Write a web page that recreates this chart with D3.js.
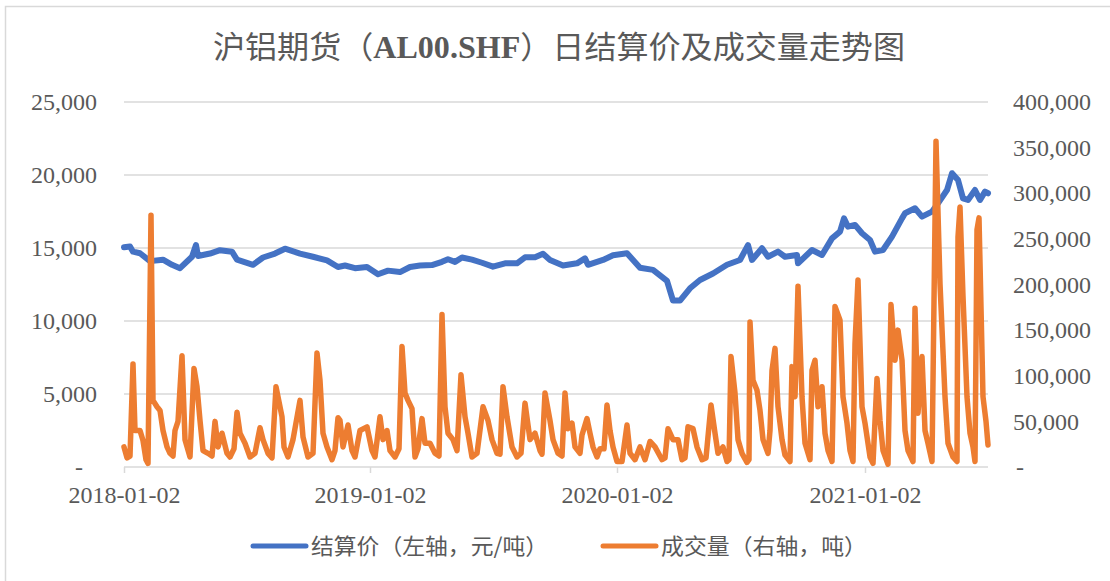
<!DOCTYPE html>
<html>
<head>
<meta charset="utf-8">
<script src="https://cdn.jsdelivr.net/npm/d3@7"></script>
<style>
  body { margin: 0; background: #fff; }
  svg { display: block; }
</style>
</head>
<body>
<svg id="chart"></svg>
<script>
// x axis is trading-day sequence from 2018-01-02
const tickDays = [0, 246, 493, 741];
const tickLabels = ["2018-01-02", "2019-01-02", "2020-01-02", "2021-01-02"];
const lastDay = 864;

const leftTicks = [0, 5000, 10000, 15000, 20000, 25000];
const rightTicks = [0, 50000, 100000, 150000, 200000, 250000, 300000, 350000, 400000];

// 结算价 (元/吨)
const priceDays = [0, 6, 9, 16, 26, 39, 48, 56, 68, 72, 74, 86, 96, 108, 113, 129, 139, 151, 161, 176,
  189, 203, 214, 221, 231, 243, 254, 264, 276, 286, 296, 308, 318, 324, 331, 338, 348, 358, 369, 381,
  393, 401, 411, 419, 426, 439, 453, 461, 464, 479, 489, 503, 516, 529, 543, 549, 556, 566, 576, 589,
  603, 616, 624, 628, 638, 644, 654, 661, 673, 674, 688, 698, 708, 716, 720, 724, 731, 738, 746, 751,
  759, 768, 778, 781, 791, 798, 808, 814, 823, 828, 834, 839, 844, 851, 856, 861, 864];
const priceValues = [15050, 15100, 14750, 14640, 14100, 14200, 13850, 13620, 14400, 15200, 14450, 14620, 14850, 14750, 14200, 13850, 14350, 14620, 14950, 14620,
  14400, 14150, 13700, 13800, 13620, 13700, 13200, 13450, 13350, 13700, 13800, 13830, 14050, 14230, 14050, 14350, 14200, 13990, 13720, 13950,
  13950, 14360, 14360, 14600, 14180, 13800, 13950, 14290, 13850, 14180, 14500, 14640, 13650, 13500, 12750, 11400, 11400, 12240, 12810, 13250,
  13850, 14180, 15200, 14180, 14980, 14400, 14750, 14400, 14520, 13950, 14860, 14520, 15660, 16120, 17030, 16460, 16580, 16010, 15550, 14750,
  14860, 15780, 17030, 17380, 17720, 17150, 17490, 18060, 18970, 20120, 19660, 18400, 18290, 18970, 18290, 18860, 18750];

// 成交量 (吨)
const volumeDays = [0, 3, 6, 9, 11, 16, 19, 22, 24, 27, 29, 33, 36, 39, 43, 46, 49, 51, 54, 58,
  61, 66, 70, 73, 76, 79, 84, 88, 91, 94, 98, 103, 106, 110, 113, 116, 121, 126, 131, 136,
  139, 144, 148, 152, 158, 160, 164, 169, 176, 179, 184, 189, 193, 196, 199, 203, 208, 211, 214, 216,
  219, 224, 228, 231, 236, 243, 248, 251, 256, 259, 263, 266, 271, 275, 278, 281, 284, 288, 291, 294,
  298, 301, 306, 311, 315, 318, 321, 324, 329, 333, 337, 341, 344, 348, 353, 359, 364, 368, 373, 376,
  379, 383, 388, 393, 397, 401, 406, 411, 416, 418, 421, 426, 429, 434, 438, 441, 444, 448, 451, 456,
  458, 463, 466, 469, 473, 476, 480, 483, 486, 489, 493, 498, 503, 506, 511, 516, 521, 526, 531, 538,
  541, 544, 549, 554, 558, 561, 564, 569, 573, 578, 582, 587, 591, 594, 599, 603, 605, 607, 611, 614,
  618, 623, 625, 626, 629, 633, 636, 639, 644, 646, 648, 651, 654, 658, 661, 666, 668, 671, 674, 678,
  681, 686, 688, 691, 694, 698, 701, 704, 708, 711, 716, 719, 723, 726, 729, 731, 734, 738, 741, 746,
  749, 753, 756, 759, 764, 767, 771, 774, 778, 781, 784, 789, 791, 794, 798, 801, 804, 808, 812, 816,
  821, 824, 829, 833, 834, 836, 839, 843, 846, 849, 851, 853, 855, 859, 862, 864];
const volumeValues = [22000, 10000, 12000, 113000, 40000, 40000, 29000, 8000, 4000, 276000, 73000, 66000, 62000, 40000, 22000, 15000, 12000, 40000, 50000, 122000,
  30000, 11000, 108000, 88000, 51000, 18000, 15000, 12000, 50000, 22000, 37000, 15000, 11000, 20000, 60000, 37000, 26000, 11000, 15000, 43000,
  30000, 15000, 10000, 88000, 55000, 22000, 11000, 30000, 73000, 33000, 11000, 15000, 125000, 95000, 37000, 22000, 8000, 18000, 54000, 51000,
  22000, 46000, 18000, 11000, 40000, 44000, 18000, 11000, 55000, 30000, 40000, 18000, 11000, 20000, 132000, 81000, 73000, 64000, 11000, 20000,
  53000, 26000, 26000, 15000, 12000, 167000, 66000, 37000, 30000, 18000, 101000, 55000, 37000, 11000, 15000, 66000, 51000, 30000, 15000, 14000,
  88000, 55000, 22000, 11000, 15000, 70000, 30000, 37000, 18000, 14000, 81000, 51000, 30000, 15000, 12000, 81000, 42000, 48000, 22000, 15000,
  35000, 53000, 37000, 22000, 11000, 20000, 20000, 68000, 40000, 22000, 6000, 6000, 46000, 15000, 8000, 22000, 8000, 28000, 22000, 8000,
  10000, 42000, 30000, 30000, 8000, 10000, 44000, 42000, 22000, 8000, 10000, 68000, 37000, 15000, 22000, 6000, 8000, 121000, 81000, 30000,
  15000, 5000, 8000, 159000, 95000, 84000, 62000, 30000, 15000, 40000, 106000, 130000, 66000, 30000, 13000, 6000, 110000, 77000, 198000, 77000,
  26000, 8000, 106000, 117000, 66000, 88000, 37000, 18000, 6000, 176000, 161000, 77000, 48000, 18000, 6000, 135000, 205000, 66000, 48000, 11000,
  4000, 97000, 51000, 18000, 3000, 178000, 117000, 150000, 117000, 40000, 18000, 6000, 174000, 59000, 121000, 40000, 26000, 6000, 357000, 201000,
  77000, 26000, 11000, 6000, 252000, 285000, 187000, 77000, 37000, 22000, 6000, 260000, 273000, 77000, 50000, 24000];

const W = 1110, H = 581;
const plot = { left: 124, right: 988, top: 102, bottom: 467 };
const textColor = "#595959";
const gridColor = "#d9d9d9";
const serif = "'Liberation Serif', 'Noto Sans CJK SC', serif";
const cjk = "'Noto Sans CJK SC', sans-serif";

const svg = d3.select("#chart").attr("width", W).attr("height", H);

svg.append("rect")
    .attr("x", 5.5).attr("y", 6.5)
    .attr("width", W - 4).attr("height", H)
    .attr("fill", "#fff")
    .attr("stroke", gridColor)
    .attr("stroke-width", 1.5);

const x = d3.scaleLinear().domain([0, lastDay]).range([plot.left, plot.right]);
const yL = d3.scaleLinear().domain([0, 25000]).range([plot.bottom, plot.top]);
const yR = d3.scaleLinear().domain([0, 400000]).range([plot.bottom, plot.top]);

// gridlines
svg.append("g")
    .selectAll("line")
    .data(leftTicks.slice(1))
    .join("line")
    .attr("x1", plot.left).attr("x2", plot.right)
    .attr("y1", d => yL(d)).attr("y2", d => yL(d))
    .attr("stroke", gridColor)
    .attr("stroke-width", 1.5);

const fmt = d3.format(",");

// left axis
const gL = svg.append("g")
    .attr("transform", "translate(" + plot.left + ",0)")
    .call(d3.axisLeft(yL).tickValues(leftTicks).tickSize(0).tickPadding(27)
        .tickFormat(d => d === 0 ? "-" : fmt(d)));
gL.select(".domain").remove();
gL.selectAll("text")
    .attr("fill", textColor)
    .style("font-family", serif)
    .style("font-size", "24px")
    .attr("dx", d => d === 0 ? -14 : 0);

// right axis
const gR = svg.append("g")
    .attr("transform", "translate(" + plot.right + ",0)")
    .call(d3.axisRight(yR).tickValues(rightTicks).tickSize(0).tickPadding(25)
        .tickFormat(d => d === 0 ? "-" : fmt(d)));
gR.select(".domain").remove();
gR.selectAll("text")
    .attr("fill", textColor)
    .style("font-family", serif)
    .style("font-size", "24px")
    .attr("dx", d => d === 0 ? 3 : 0);

// x axis
const gX = svg.append("g")
    .attr("transform", "translate(0," + plot.bottom + ")")
    .call(d3.axisBottom(x).tickValues(tickDays).tickSize(6).tickPadding(13)
        .tickFormat((d, i) => tickLabels[i]));
gX.select(".domain")
    .attr("d", "M" + plot.left + ",0H" + plot.right)
    .attr("stroke", gridColor)
    .attr("stroke-width", 1.5);
gX.selectAll(".tick line").attr("stroke", gridColor).attr("stroke-width", 1.5);
gX.selectAll("text")
    .attr("fill", textColor)
    .style("font-family", serif)
    .style("font-size", "24px");

// lines
const priceData = priceDays.map((d, i) => [d, priceValues[i]]);
const volumeData = volumeDays.map((d, i) => [d, volumeValues[i]]);

svg.append("path")
    .datum(priceData)
    .attr("fill", "none")
    .attr("stroke", "#4472C4")
    .attr("stroke-width", 6)
    .attr("stroke-linejoin", "round")
    .attr("stroke-linecap", "round")
    .attr("d", d3.line().x(d => x(d[0])).y(d => yL(d[1])));

svg.append("path")
    .datum(volumeData)
    .attr("fill", "none")
    .attr("stroke", "#ED7D31")
    .attr("stroke-width", 5.5)
    .attr("stroke-linejoin", "round")
    .attr("stroke-linecap", "round")
    .attr("d", d3.line().x(d => x(d[0])).y(d => yR(d[1])));

// title
const title = svg.append("text")
    .attr("x", 559).attr("y", 58)
    .attr("text-anchor", "middle")
    .attr("fill", textColor)
    .style("font-family", serif)
    .style("font-size", "31px")
    .attr("textLength", 692)
    .attr("lengthAdjust", "spacingAndGlyphs");
title.append("tspan").text("沪铝期货（");
title.append("tspan").style("font-weight", "bold").text("AL00.SHF");
title.append("tspan").text("）日结算价及成交量走势图");

// legend
const legend = [
  { name: "结算价（左轴，元/吨）", color: "#4472C4", x: 253, w: 237 },
  { name: "成交量（右轴，吨）", color: "#ED7D31", x: 603, w: 206 }
];
const lg = svg.append("g");
legend.forEach(l => {
  lg.append("line")
      .attr("x1", l.x).attr("x2", l.x + 53)
      .attr("y1", 546).attr("y2", 546)
      .attr("stroke", l.color)
      .attr("stroke-width", 5)
      .attr("stroke-linecap", "round");
  lg.append("text")
      .attr("x", l.x + 58).attr("y", 554)
      .attr("fill", textColor)
      .style("font-family", cjk)
      .style("font-size", "22px")
      .attr("textLength", l.w)
      .attr("lengthAdjust", "spacingAndGlyphs")
      .text(l.name);
});
</script>
</body>
</html>
